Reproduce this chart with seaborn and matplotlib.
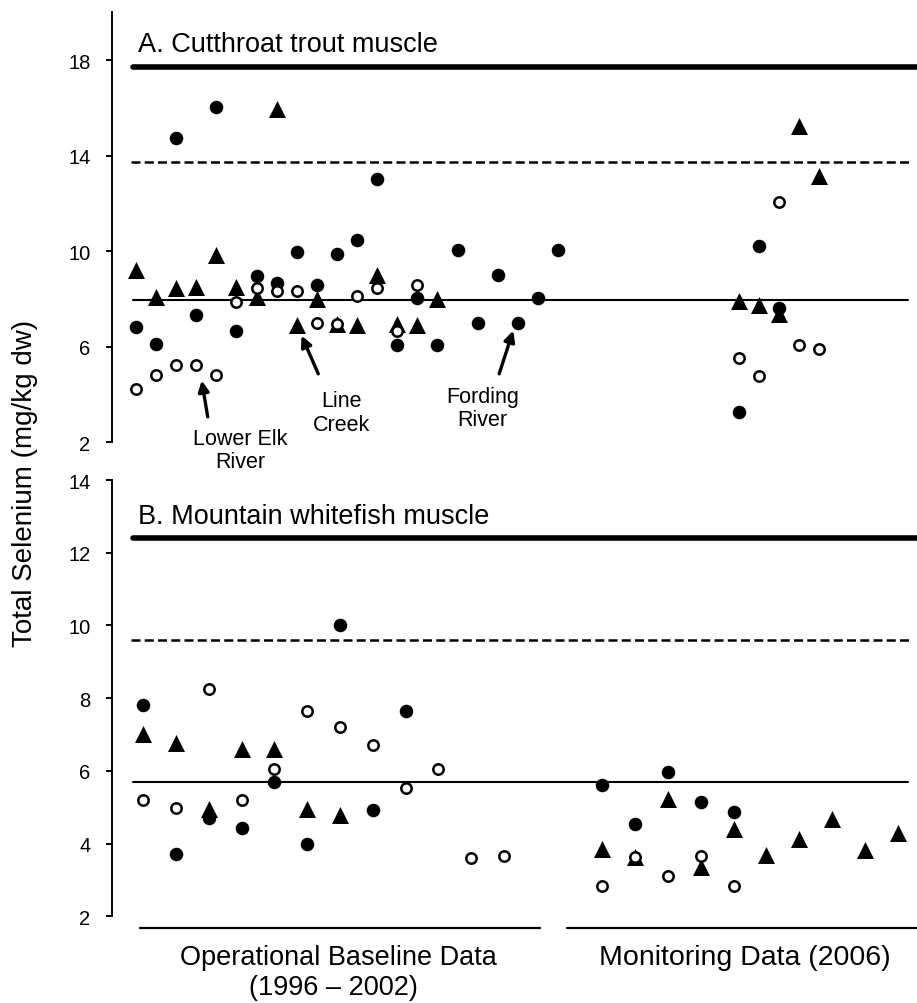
import matplotlib
matplotlib.use("Agg")
import matplotlib.pyplot as plt
import seaborn as sns

# ---------------- data ----------------
# Panel A: Cutthroat trout muscle (sample index, total Se mg/kg dw)
a_fording_x = [0, 1, 2, 3, 4, 5, 6, 7, 8, 9, 10, 11, 12, 13, 14, 15, 16, 17, 18, 19, 20, 21, 30, 31, 32]
a_fording_y = [6.82, 6.12, 14.73, 7.33, 16.03, 6.65, 8.94, 8.67, 9.96, 8.56, 9.89, 10.47, 13.0,
               6.05, 8.04, 6.05, 10.05, 6.98, 8.98, 6.98, 8.04, 10.05, 3.26, 10.23, 7.61]
a_line_x = [0, 1, 2, 3, 4, 5, 6, 7, 8, 9, 10, 11, 12, 13, 14, 15, 30, 31, 32, 33, 34]
a_line_y = [9.19, 8.07, 8.45, 8.49, 9.82, 8.49, 8.07, 15.96, 6.91, 8.0, 6.95, 6.91, 8.98,
            6.95, 6.91, 8.0, 7.93, 7.75, 7.37, 15.24, 13.14]
a_elk_x = [0, 1, 2, 3, 4, 5, 6, 7, 8, 9, 10, 11, 12, 13, 14, 30, 31, 32, 33, 34]
a_elk_y = [4.23, 4.83, 5.21, 5.25, 4.83, 7.86, 8.46, 8.32, 8.32, 6.98, 6.93, 8.14, 8.46,
           6.65, 8.59, 5.52, 4.75, 12.05, 6.05, 5.88]
a_thresholds = [17.7, 13.75, 7.95]

# Panel B: Mountain whitefish muscle
b_fording_x = [0, 1, 2, 3, 4, 5, 6, 7, 8, 14, 15, 16, 17, 18]
b_fording_y = [7.81, 3.72, 4.71, 4.42, 5.69, 3.98, 10.02, 4.91, 7.64, 5.60, 4.54, 5.98, 5.14, 4.88]
b_line_x = [0, 1, 2, 3, 4, 5, 6, 14, 15, 16, 17, 18, 19, 20, 21, 22, 23]
b_line_y = [7.0, 6.77, 4.96, 6.61, 6.59, 4.96, 4.79, 3.85, 3.62, 5.23, 3.35, 4.40, 3.69,
            4.13, 4.68, 3.81, 4.29]
b_elk_x = [0, 1, 2, 3, 4, 5, 6, 7, 8, 9, 10, 11, 14, 15, 16, 17, 18]
b_elk_y = [5.21, 4.97, 8.26, 5.21, 6.04, 7.64, 7.20, 6.70, 5.53, 6.04, 3.60, 3.65,
           2.84, 3.62, 3.12, 3.67, 2.84]
b_thresholds = [12.4, 9.6, 5.7]

a_yticks = [2, 6, 10, 14, 18]
b_yticks = [2, 4, 6, 8, 10, 12, 14]

title_a = "A. Cutthroat trout muscle"
title_b = "B. Mountain whitefish muscle"
y_label = "Total Selenium (mg/kg dw)"
group_labels = ["Operational Baseline Data", "(1996 – 2002)", "Monitoring Data (2006)"]
site_labels = ["Lower Elk\nRiver", "Line\nCreek", "Fording\nRiver"]

# ---------------- style ----------------
sns.set_theme(style="white")
plt.rcParams["font.family"] = ["Liberation Sans", "DejaVu Sans"]
plt.rcParams["text.color"] = "black"

fig = plt.figure(figsize=(9.17, 10.04), dpi=100)
ax_a = fig.add_axes([0.1221, 0.5586, 0.8779, 0.4282])
ax_b = fig.add_axes([0.1221, 0.0864, 0.8779, 0.4345])


def draw_panel(ax, fx, fy, lx, ly, ex, ey, thr, yticks, ylim, xlim):
    sns.scatterplot(x=lx, y=ly, ax=ax, marker="^", s=150, color="black",
                    edgecolor="black", linewidth=0, zorder=3)
    sns.scatterplot(x=fx, y=fy, ax=ax, marker="o", s=95, color="black",
                    edgecolor="black", linewidth=0, zorder=4)
    sns.scatterplot(x=ex, y=ey, ax=ax, marker="o", s=56, color="white",
                    edgecolor="black", linewidth=1.8, zorder=5)
    ax.axhline(thr[0], xmin=0.026, xmax=1.0, color="black", lw=4.0, zorder=1)
    ax.axhline(thr[1], xmin=0.024, xmax=0.991, color="black", lw=1.8,
               ls=(0, (3.6, 1.7)), zorder=1)
    ax.axhline(thr[2], xmin=0.026, xmax=0.989, color="black", lw=1.5, zorder=1)
    ax.set_xlim(*xlim)
    ax.set_ylim(*ylim)
    ax.set_yticks(yticks)
    ax.set_xticks([])
    ax.set_xlabel("")
    ax.set_ylabel("")
    sns.despine(ax=ax, bottom=True)
    ax.spines["left"].set_linewidth(1.4)
    ax.spines["left"].set_color("black")
    ax.tick_params(axis="y", left=True, direction="out", length=4.5, width=1.4,
                   pad=11, labelsize=14.5, colors="black")
    ax.patch.set_alpha(0)


draw_panel(ax_a, a_fording_x, a_fording_y, a_line_x, a_line_y, a_elk_x, a_elk_y,
           a_thresholds, a_yticks, (2, 20), (-1.194, 38.86))
draw_panel(ax_b, b_fording_x, b_fording_y, b_line_x, b_line_y, b_elk_x, b_elk_y,
           b_thresholds, b_yticks, (2, 14), (-0.954, 23.59))

# site annotations (panel A)
arrow_kw = dict(arrowstyle="-|>", lw=2.4, color="black", mutation_scale=16,
                shrinkA=0, shrinkB=0)
ax_a.annotate("", xy=(3.27, 4.58), xytext=(3.57, 3.06), arrowprops=arrow_kw,
              annotation_clip=False)
ax_a.annotate("", xy=(8.24, 6.46), xytext=(9.07, 4.86), arrowprops=arrow_kw,
              annotation_clip=False)
ax_a.annotate("", xy=(18.77, 6.67), xytext=(18.07, 4.86), arrowprops=arrow_kw,
              annotation_clip=False)
ax_a.text(5.17, 1.68, site_labels[0], ha="center", va="center", fontsize=15.5,
          linespacing=1.15, clip_on=False)
ax_a.text(10.25, 3.25, site_labels[1], ha="center", va="center", fontsize=15.5,
          linespacing=1.15, clip_on=False)
ax_a.text(17.24, 3.44, site_labels[2], ha="center", va="center", fontsize=15.5,
          linespacing=1.15, clip_on=False)

# panel titles
fig.text(138 / 917, 1 - 51.7 / 1004, title_a, ha="left", va="baseline", fontsize=19.5)
fig.text(138 / 917, 1 - 524.3 / 1004, title_b, ha="left", va="baseline", fontsize=19.5)

# y label
fig.text(25 / 917, 1 - 483 / 1004, y_label, rotation=90, ha="center", va="center",
         fontsize=20)

# group brackets under panel B
yb = -(929 - 917.3) / 436.3
ax_b.plot([0.0348, 0.5317], [yb, yb], transform=ax_b.transAxes, clip_on=False,
          color="black", lw=1.6)
ax_b.plot([0.5652, 1.0], [yb, yb], transform=ax_b.transAxes, clip_on=False,
          color="black", lw=1.6)
fig.text(338 / 917, 1 - 958 / 1004, group_labels[0], ha="center", va="center", fontsize=19.5)
fig.text(333 / 917, 1 - 988 / 1004, group_labels[1], ha="center", va="center", fontsize=19.5)
fig.text(745 / 917, 1 - 958 / 1004, group_labels[2], ha="center", va="center", fontsize=20.5)

fig.savefig("out.png", dpi=100, facecolor="white")
